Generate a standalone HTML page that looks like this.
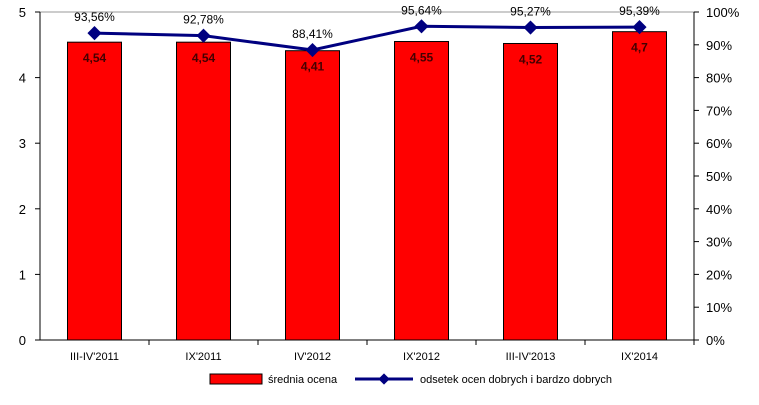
<!DOCTYPE html>
<html><head><meta charset="utf-8"><style>
body{margin:0;background:#fff}
svg text{font-family:"Liberation Sans",Arial,sans-serif}
</style></head><body>
<svg width="759" height="400" id="c">
<line x1="40" y1="12" x2="694" y2="12" stroke="#999"/>
<g id="bars"></g><g id="line"></g><g id="axes"></g>
<g>
<rect x="210" y="374" width="52" height="10" fill="#f00" stroke="#000"/>
<text x="268" y="383" font-size="11">średnia ocena</text>
<line x1="355" y1="379" x2="413" y2="379" stroke="#000080" stroke-width="3"/>
<rect x="380" y="375" width="8" height="8" fill="#000080" transform="rotate(45 384 379)"/>
<text x="420" y="383" font-size="11">odsetek ocen dobrych i bardzo dobrych</text>
</g>
</svg>
<script>
const categories=["III-IV'2011","IX'2011","IV'2012","IX'2012","III-IV'2013","IX'2014"];
const avgValues=[4.54,4.54,4.41,4.55,4.52,4.7];
const avgLabels=["4,54","4,54","4,41","4,55","4,52","4,7"];
const pctValues=[93.56,92.78,88.41,95.64,95.27,95.39];
const pctLabels=["93,56%","92,78%","88,41%","95,64%","95,27%","95,39%"];
const leftTicks=[0,1,2,3,4,5];
const rightTicks=[0,10,20,30,40,50,60,70,80,90,100];
const NS="http://www.w3.org/2000/svg";
const L=40,R=694,T=12,B=340,bw=(R-L)/categories.length;
const yL=v=>B-v/5*(B-T), yR=p=>B-p/100*(B-T), xc=i=>L+bw*(i+0.5);
function mk(t,a,p){const e=document.createElementNS(NS,t);for(const k in a)e.setAttribute(k,a[k]);p.appendChild(e);return e;}
const gb=document.getElementById('bars'),gl=document.getElementById('line'),ga=document.getElementById('axes');
avgValues.forEach((v,i)=>{
 const r=mk('rect',{x:xc(i)-27,y:yL(v),width:54,height:B-yL(v),fill:'#f00',stroke:'#000','stroke-width':1},gb);
 
 
 const t=mk('text',{x:xc(i),y:yL(v)+20,'font-size':12,'font-weight':'bold','text-anchor':'middle',fill:'#400'},gb);
 t.textContent=avgLabels[i];
 
 
});
const pl=mk('polyline',{points:pctValues.map((p,i)=>xc(i)+','+yR(p)).join(' '),fill:'none',stroke:'#000080','stroke-width':3},gl);


pctValues.forEach((p,i)=>{
 const m=mk('rect',{x:xc(i)-5,y:yR(p)-5,width:10,height:10,fill:'#000080',transform:`rotate(45 ${xc(i)} ${yR(p)})`},gl);
 
 
 const t=mk('text',{x:xc(i),y:yR(p)-12,'font-size':12,'text-anchor':'middle'},gl);
 t.textContent=pctLabels[i];
 
 
});
const ax=mk('path',{d:`M${L},${T}V${B}H${R}V${T}`,fill:'none',stroke:'#000'},ga);


leftTicks.forEach(v=>{
 mk('line',{x1:L-5,x2:L,y1:yL(v),y2:yL(v),stroke:'#000'},ga);
 const t=mk('text',{x:L-14,y:yL(v)+5,'font-size':13,'text-anchor':'end'},ga);
 t.textContent=v;
 
 
});
rightTicks.forEach(p=>{
 mk('line',{x1:R,x2:R+5,y1:yR(p),y2:yR(p),stroke:'#000'},ga);
 const t=mk('text',{x:R+12,y:yR(p)+5,'font-size':13},ga);
 t.textContent=p+'%';
 
 
});
categories.forEach((c,i)=>{
 mk('line',{x1:L+bw*(i+1),x2:L+bw*(i+1),y1:B,y2:B+5,stroke:'#000'},ga);
 const t=mk('text',{x:xc(i),y:B+20,'font-size':11,'text-anchor':'middle'},ga);
 t.textContent=c;
 
 
});
</script>
</body></html>
